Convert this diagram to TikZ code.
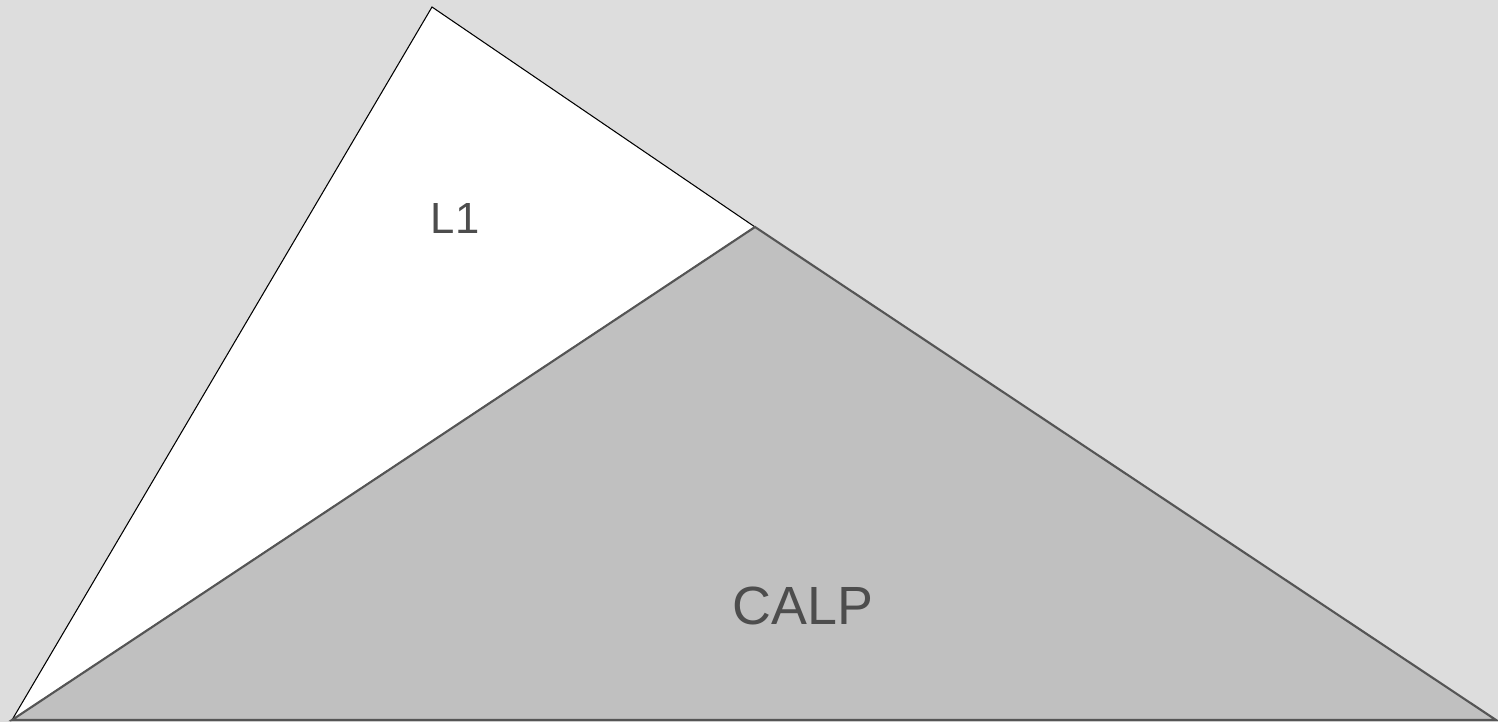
\documentclass[tikz,border=0pt]{standalone}
\usepackage{fontspec}
\setmainfont{Liberation Sans}
\definecolor{bggray}{HTML}{DDDDDD}
\definecolor{areagray}{HTML}{C0C0C0}
\definecolor{edgegray}{HTML}{555555}
\definecolor{textgray}{HTML}{4D4D4D}
\begin{document}
\begin{tikzpicture}[
        x=0.01cm, y=-0.01cm, % one unit per pixel
        lower/.style={fill=areagray, draw=edgegray, line width=0.6pt, line join=miter},
        upper/.style={fill=white, draw=black, line width=0.3pt},
        label/.style={text=textgray, inner sep=0pt}, % label style
    ]
    \fill[bggray] (0,0) rectangle (1498,722);
    \useasboundingbox (0,0) rectangle (1498,722);

    \coordinate (base left) at (12,720);
    \coordinate (top) at (432,7);
    \coordinate (joint) at (755,227);
    \coordinate (base right) at (1496,720);

    \draw[upper] (base left) -- (top) -- (joint) -- cycle;
    \draw[lower] (base left) -- (joint) -- (base right) -- cycle;

    \node[label, font=\fontsize{12.4}{15}\selectfont] (l1) at (455,219) {L1};
    \node[label, font=\fontsize{15.3}{18}\selectfont] (calp) at (803,606) {CALP};
\end{tikzpicture}
\end{document}
